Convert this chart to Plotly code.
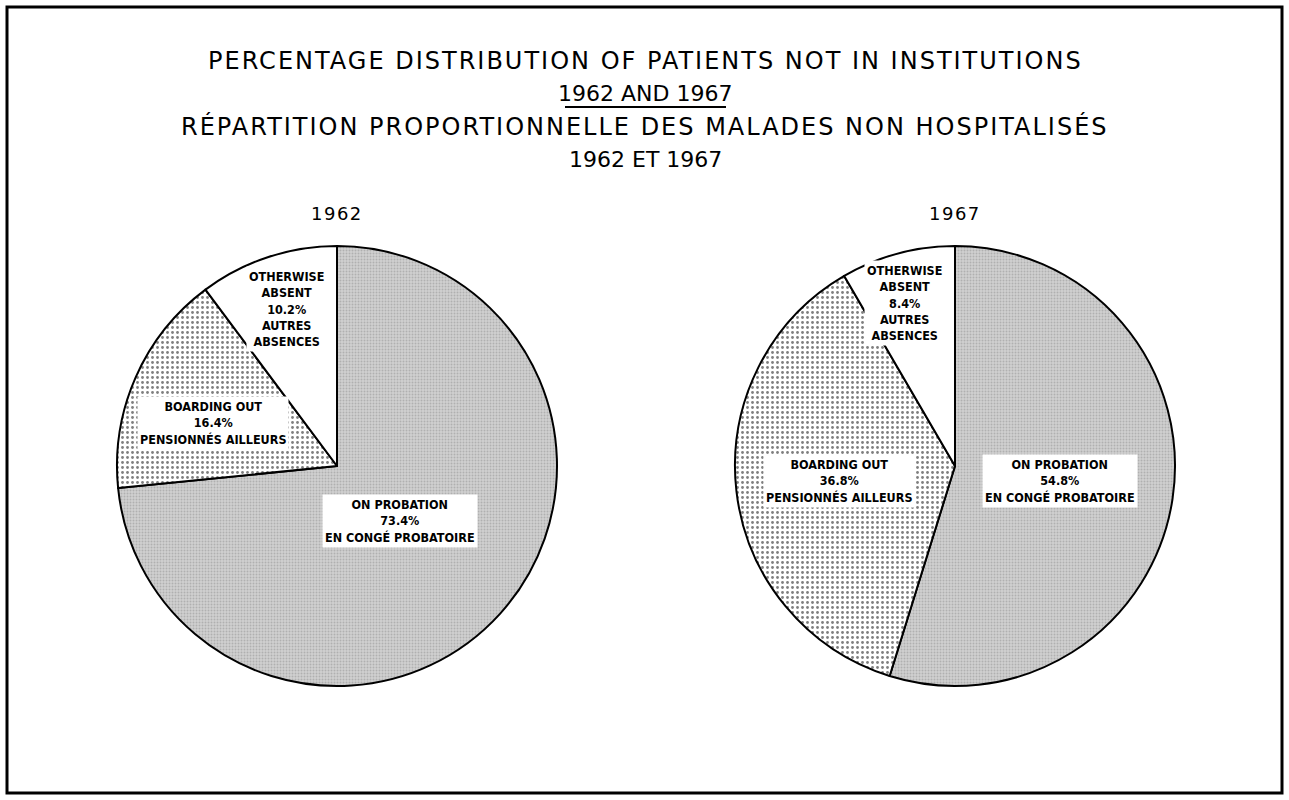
import plotly.graph_objects as go

years = ["1962", "1967"]
categories_en = ["ON PROBATION", "BOARDING OUT", "OTHERWISE ABSENT"]
categories_fr = ["EN CONGÉ PROBATOIRE", "PENSIONNÉS AILLEURS", "AUTRES ABSENCES"]
values_1962 = [73.4, 16.4, 10.2]
values_1967 = [54.8, 36.8, 8.4]
title_lines = [
    "PERCENTAGE DISTRIBUTION OF PATIENTS NOT IN INSTITUTIONS",
    "1962 AND 1967",
    "RÉPARTITION PROPORTIONNELLE DES MALADES NON HOSPITALISÉS",
    "1962 ET 1967",
]

W, H = 1289, 800
FONT = "DejaVu Sans, Liberation Sans, sans-serif"
LFONT = "DejaVu Sans Condensed, DejaVu Sans, sans-serif"

def px(x):
    return x / W

def py(y):
    return 1 - y / H

fill_colors = ["#c4c4c4", "white", "white"]
pattern_shapes = [".", ".", ""]
pattern_fg = ["#8f8f8f", "black", "black"]
pattern_bg = ["#d0d0d0", "white", "white"]
pattern_size = [3, 5, 6]
pattern_sol = [0.35, 0.25, 0.3]

centers = [(337, 466), (955, 466)]
radius = 220

fig = go.Figure()
for (cx, cy), vals, yr in zip(centers, [values_1962, values_1967], years):
    fig.add_trace(go.Pie(
        values=vals,
        labels=categories_en,
        sort=False,
        direction="clockwise",
        rotation=0,
        textinfo="none",
        hoverinfo="label+value",
        showlegend=False,
        marker=dict(
            colors=fill_colors,
            line=dict(color="black", width=2),
            pattern=dict(shape=pattern_shapes, fgcolor=pattern_fg, bgcolor=pattern_bg,
                         size=pattern_size, solidity=pattern_sol, fillmode="overlay"),
        ),
        domain=dict(x=[px(cx - radius), px(cx + radius)], y=[py(cy + radius), py(cy - radius)]),
        name=yr,
    ))

annotations = []
title_y = [60.5, 93.5, 127, 159]
title_size = [24, 22, 24, 22]
for t, y, s in zip(title_lines, title_y, title_size):
    annotations.append(dict(text=t, x=px(645), y=py(y), xref="paper", yref="paper",
                            showarrow=False, font=dict(family=FONT, size=s, color="black"),
                            xanchor="center", yanchor="middle"))
for (cx, cy), yr in zip(centers, years):
    annotations.append(dict(text=yr, x=px(cx), y=py(213), xref="paper", yref="paper",
                            showarrow=False, font=dict(family=FONT, size=18, color="black"),
                            xanchor="center", yanchor="middle"))

label_pos = {
    "1962": [(400, 521), (213, 423), (286, 309)],
    "1967": [(1060, 481), (839, 481), (905, 303)],
}
for yr, vals in zip(years, [values_1962, values_1967]):
    for i, v in enumerate(vals):
        x, y = label_pos[yr][i]
        if i == 2:
            en = categories_en[i].replace(" ", "<br>")
            fr = categories_fr[i].replace(" ", "<br>")
        else:
            en, fr = categories_en[i], categories_fr[i]
        txt = f"<b>{en}<br>{v:.1f}%<br>{fr}</b>"
        annotations.append(dict(text=txt, x=px(x), y=py(y), xref="paper", yref="paper",
                                showarrow=False, bgcolor="white", borderpad=2,
                                font=dict(family=LFONT, size=12.5, color="black"),
                                xanchor="center", yanchor="middle", align="center"))

shapes = [
    dict(type="rect", xref="paper", yref="paper", x0=px(7), x1=px(1282), y0=py(7), y1=py(793),
         line=dict(color="black", width=3)),
    dict(type="line", xref="paper", yref="paper", x0=px(565), x1=px(726), y0=py(107), y1=py(107),
         line=dict(color="black", width=2)),
]

fig.update_layout(
    width=W, height=H,
    margin=dict(l=0, r=0, t=0, b=0),
    paper_bgcolor="white", plot_bgcolor="white",
    annotations=annotations, shapes=shapes,
)

post = """
document.body.style.margin='0';
var anns = document.querySelectorAll('g.annotation');
var spacing = {0: '2px', 2: '2px', 4: '1.5px', 5: '1.5px'};
anns.forEach(function(a, i){
  if (spacing[i] !== undefined) {
    a.querySelectorAll('text').forEach(function(t){ t.style.letterSpacing = spacing[i]; });
  }
});
"""
fig.write_html("out.html", config={"displayModeBar": False}, post_script=post)
